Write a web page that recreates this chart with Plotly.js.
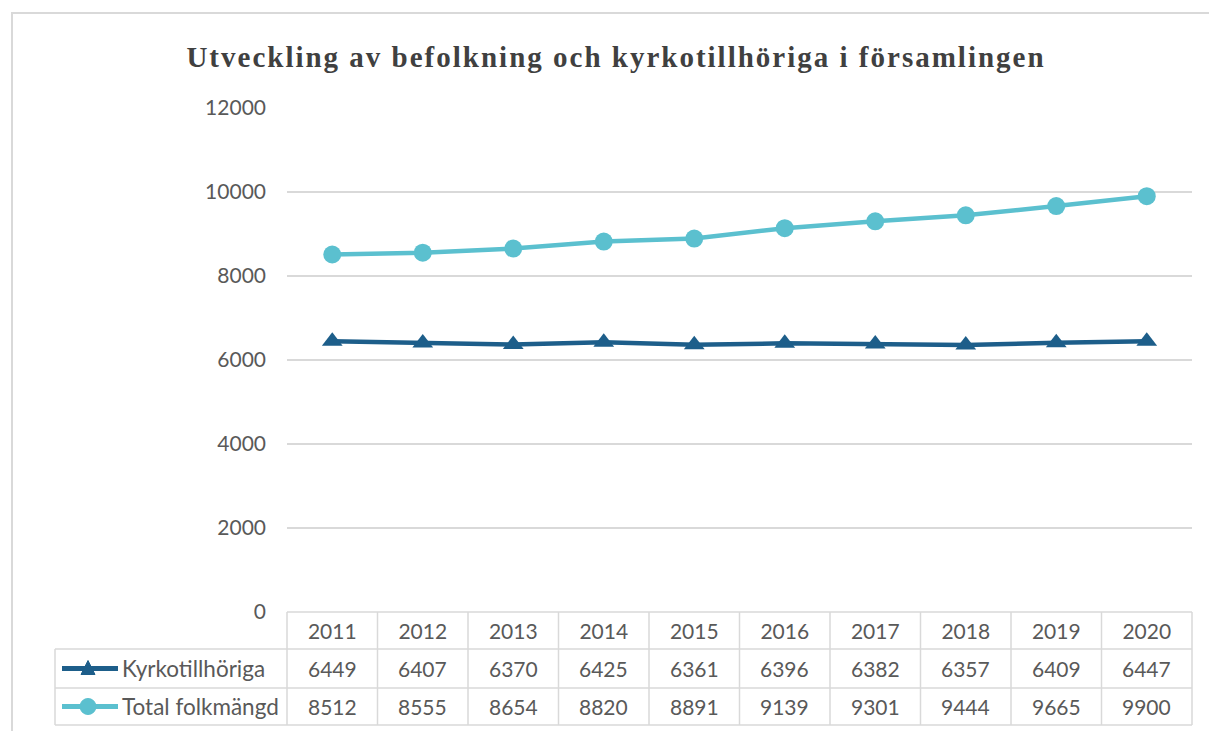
<!DOCTYPE html>
<html>
<head>
<meta charset="utf-8">
<script src="https://cdn.plot.ly/plotly-3.0.1.min.js"></script>
<style>
html,body{margin:0;padding:0;background:#fff;}
#chart{width:1209px;height:731px;}
.gtitle{letter-spacing:2px;}
</style>
</head>
<body>
<div id="chart"></div>
<script>
const years = ['2011','2012','2013','2014','2015','2016','2017','2018','2019','2020'];
const kyrkotillhoriga = [6449,6407,6370,6425,6361,6396,6382,6357,6409,6447];
const totalFolkmangd = [8512,8555,8654,8820,8891,9139,9301,9444,9665,9900];
const seriesNames = ['Kyrkotillhöriga','Total folkmängd'];
const yTicks = [0,2000,4000,6000,8000,10000,12000];

const W = 1209, H = 731;
const L = 287, R = 17, T = 108, B = 119;
const pw = W - L - R, ph = H - T - B;
const px = x => (x - L) / pw;           // pixel -> paper x
const py = y => (H - B - y) / ph;        // pixel -> paper y

const darkC = '#1D5E8A', lightC = '#5BC0CF', gridC = '#D9D9D9', textC = '#595959';

const traces = [
  {x: years, y: kyrkotillhoriga, name: seriesNames[0], type: 'scatter', mode: 'lines+markers',
   line: {color: darkC, width: 4.5}, marker: {symbol: 'triangle-up', size: 18, color: darkC}, cliponaxis: false},
  {x: years, y: totalFolkmangd, name: seriesNames[1], type: 'scatter', mode: 'lines+markers',
   line: {color: lightC, width: 4.5}, marker: {symbol: 'circle', size: 18, color: lightC}, cliponaxis: false}
];

const shapes = [];
const annotations = [];
const N = years.length;
// outer frame
shapes.push({type:'rect', xref:'paper', yref:'paper', x0:px(12), x1:px(1300), y0:py(800), y1:py(13),
  line:{color:'#D9D9D9', width:2}, layer:'below'});
// table horizontal lines
const rowTop = 612, row1 = 649, row2 = 688, rowBot = 725, tblLeft = 55;
shapes.push({type:'line', xref:'paper', yref:'paper', x0:0, x1:1, y0:py(rowTop), y1:py(rowTop), line:{color:gridC, width:1.5}});
[row1, row2, rowBot].forEach(r => shapes.push({type:'line', xref:'paper', yref:'paper', x0:px(tblLeft), x1:1, y0:py(r), y1:py(r), line:{color:gridC, width:1.5}}));
// vertical lines
for (let k = 0; k <= N; k++) {
  shapes.push({type:'line', xref:'x domain', yref:'paper', x0:k/N, x1:k/N, y0:py(rowTop), y1:py(rowBot), line:{color:gridC, width:1.5}});
}
shapes.push({type:'line', xref:'paper', yref:'paper', x0:px(tblLeft), x1:px(tblLeft), y0:py(row1), y1:py(rowBot), line:{color:gridC, width:1.5}});

// legend swatches inside table
const rowC1 = (row1 + row2) / 2, rowC2 = (row2 + rowBot) / 2;
function swatch(cy, color, isTri) {
  shapes.push({type:'line', xref:'paper', yref:'paper', x0:px(62), x1:px(118), y0:py(cy), y1:py(cy), line:{color:color, width:5}});
  if (isTri) {
    const pth = `M${px(81)},${py(cy+6)} L${px(95)},${py(cy+6)} L${px(88)},${py(cy-8)} Z`;
    shapes.push({type:'path', xref:'paper', yref:'paper', path:pth, fillcolor:color, line:{color:color, width:1}});
  } else {
    shapes.push({type:'circle', xref:'paper', yref:'paper', x0:px(80), x1:px(96), y0:py(cy+8), y1:py(cy-8), fillcolor:color, line:{color:color, width:1}});
  }
}
swatch(rowC1, darkC, true);
swatch(rowC2, lightC, false);

const cellFont = {family:'Lato, "Open Sans", sans-serif', size:21, color:textC};
const legFont = {family:'Lato, "Open Sans", sans-serif', size:22.5, color:textC};
annotations.push({xref:'paper', yref:'paper', x:px(120), y:py(rowC1), xanchor:'left', yanchor:'middle', text:seriesNames[0], showarrow:false, font:legFont});
annotations.push({xref:'paper', yref:'paper', x:px(120), y:py(rowC2), xanchor:'left', yanchor:'middle', text:seriesNames[1], showarrow:false, font:legFont});
years.forEach((yr, i) => {
  annotations.push({xref:'x', yref:'paper', x:i, y:py(rowC1), xanchor:'center', yanchor:'middle', text:String(kyrkotillhoriga[i]), showarrow:false, font:cellFont});
  annotations.push({xref:'x', yref:'paper', x:i, y:py(rowC2), xanchor:'center', yanchor:'middle', text:String(totalFolkmangd[i]), showarrow:false, font:cellFont});
});

const layout = {
  width: W, height: H,
  margin: {l: L, r: R, t: T, b: B, pad: 0},
  paper_bgcolor: '#fff', plot_bgcolor: '#fff',
  showlegend: false,
  title: {text: 'Utveckling av befolkning och kyrkotillhöriga i församlingen',
    font: {family: '"Liberation Serif", "DejaVu Serif", serif', size: 29, color: '#404040', weight: 'bold'},
    x: 616 / W, xanchor: 'center', xref: 'container', y: 1 - 57 / H, yanchor: 'middle', yref: 'container'},
  xaxis: {type: 'category', range: [-0.5, N - 0.5], showgrid: false, zeroline: false, showline: false,
    ticks: '', tickfont: cellFont, ticklabelstandoff: 5, fixedrange: true},
  yaxis: {range: [0, 12000], tickvals: yTicks, ticktext: yTicks.map(String), showgrid: true, gridcolor: gridC, gridwidth: 1.5,
    zeroline: false, showline: false, ticks: '', tickfont: cellFont, ticklabelstandoff: 20, fixedrange: true},
  shapes: shapes,
  annotations: annotations
};

Plotly.newPlot('chart', traces, layout, {displayModeBar: false, staticPlot: true});
</script>
</body>
</html>
